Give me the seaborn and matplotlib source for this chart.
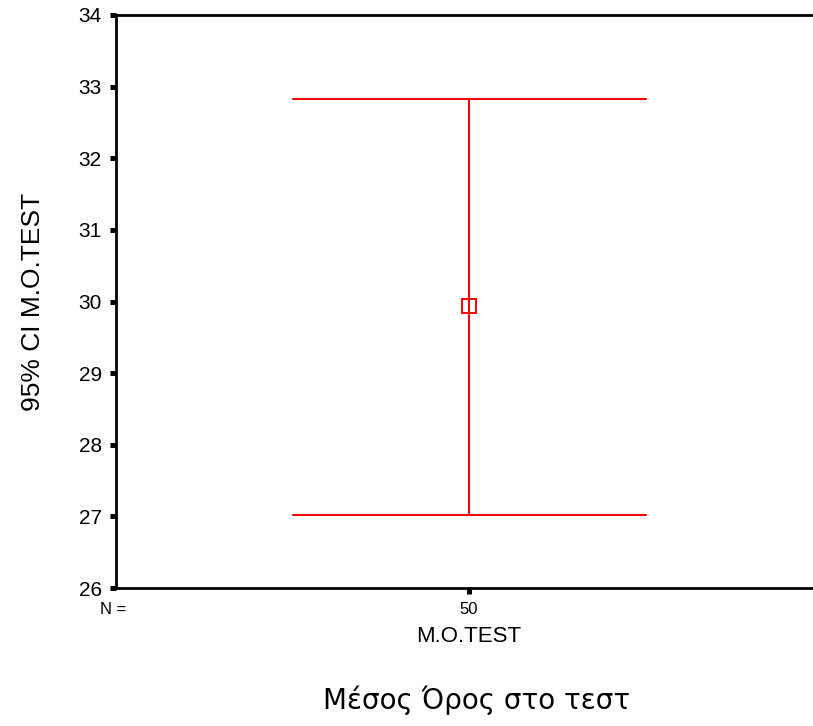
import matplotlib
matplotlib.use("Agg")
import matplotlib.pyplot as plt
import pandas as pd
import seaborn as sns

# values: lower CI bound, mean, upper CI bound
VARIABLES = ["M.O.TEST", "M.O.TEST", "M.O.TEST"]
CI_POINTS = [27.02, 29.94, 32.83]
N_COUNTS = ["50"]
Y_TICKS = [26, 27, 28, 29, 30, 31, 32, 33, 34]

sns.set_style("white")
plt.rcParams["font.family"] = ["Liberation Sans", "DejaVu Sans"]
plt.rcParams["text.color"] = "black"
plt.rcParams["axes.labelcolor"] = "black"
plt.rcParams["xtick.color"] = "black"
plt.rcParams["ytick.color"] = "black"

df = pd.DataFrame({"variable": VARIABLES, "value": CI_POINTS})

fig = plt.figure(figsize=(8.13, 7.26), dpi=100)
ax = fig.add_axes([116 / 813, 1 - 588 / 726, 706 / 813, 573 / 726])

# median = mean, full-range interval = CI bounds
sns.pointplot(
    data=df, x="variable", y="value", ax=ax,
    color="red", markers="s", linestyle="none",
    estimator="median", errorbar=("pi", 100), capsize=0.5,
    err_kws={"linewidth": 1.5},
    markersize=9.5, markeredgewidth=1.4,
)
for line in ax.lines:
    if line.get_marker() == "s":
        line.set_markerfacecolor("none")
        line.set_markeredgecolor("red")

ax.set_xlim(-0.5, 0.5)
ax.set_ylim(26, 34)
ax.set_yticks(Y_TICKS)
ax.set_xticks([0])
ax.set_xticklabels(N_COUNTS, fontsize=12)
ax.tick_params(axis="y", labelsize=15, direction="out", length=4.3,
               width=3.6, pad=6, left=True)
ax.tick_params(axis="x", direction="out", length=4.3, width=3.6, pad=6,
               bottom=True)

for side in ["left", "bottom", "top"]:
    ax.spines[side].set_linewidth(2)
    ax.spines[side].set_color("black")
ax.spines["right"].set_visible(False)

ax.set_xlabel("M.O.TEST", fontsize=16, labelpad=6)
ax.set_ylabel("95% CI M.O.TEST", fontsize=19)
ax.yaxis.set_label_coords(-0.1, 0.5)

fig.text(100 / 813, 1 - 609 / 726, "N =", fontsize=12, ha="left", va="center")
fig.text(477 / 813, 1 - 700 / 726, "Μέσος Όρος στο τεστ", fontsize=20,
         ha="center", va="center", family=["DejaVu Sans"])

fig.savefig("out.png", dpi=100)
